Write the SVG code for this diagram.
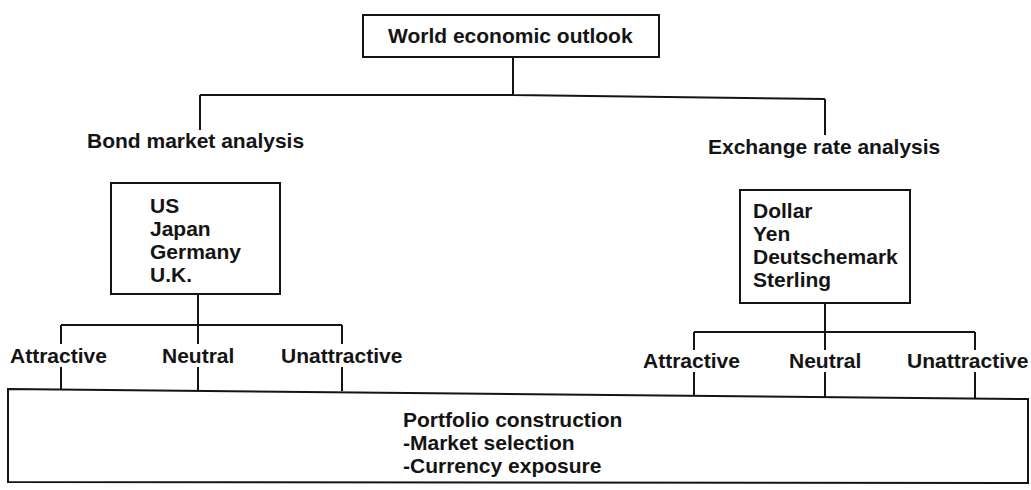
<svg xmlns="http://www.w3.org/2000/svg" width="1031" height="490" viewBox="0 0 1031 490">
<style>
text{font-family:"Liberation Sans",Arial,sans-serif;font-size:21px;font-weight:bold;fill:#141414}
.box{fill:#fff;stroke:#141414;stroke-width:2}
.c{fill:none;stroke:#141414;stroke-width:2}
</style>
<rect width="1031" height="490" fill="#fff"/>
<g id="connectors">
<path class="c" d="M513 57V96M200 95H513L825 99M200 95V130M825 99V135"/>
<path class="c" d="M198 294V325M61 325H342M61 325V344M198 325V344M342 325V344M61 367V389M198 367V390M342 367V391"/>
<path class="c" d="M825 303V332M694 332H975M694 332V350M825 332V350M975 332V350M694 372V397M825 372V398M975 372V399"/>
</g>
<g id="world">
<rect class="box" x="363" y="15" width="296" height="42"/>
<text x="388" y="43">World economic outlook</text>
</g>
<g id="bond-label"><text x="87" y="148">Bond market analysis</text></g>
<g id="fx-label"><text x="708" y="154">Exchange rate analysis</text></g>
<g id="bond-markets">
<rect class="box" x="111" y="183" width="169" height="111"/>
<text x="150" y="213">US</text>
<text x="150" y="236">Japan</text>
<text x="150" y="259">Germany</text>
<text x="150" y="282">U.K.</text>
</g>
<g id="currencies">
<rect class="box" x="740" y="190" width="170" height="113"/>
<text x="753" y="218">Dollar</text>
<text x="753" y="241">Yen</text>
<text x="753" y="264">Deutschemark</text>
<text x="753" y="287">Sterling</text>
</g>
<g id="bond-attractive"><text x="10" y="363">Attractive</text></g>
<g id="bond-neutral"><text x="162" y="363">Neutral</text></g>
<g id="bond-unattractive"><text x="281" y="363">Unattractive</text></g>
<g id="fx-attractive"><text x="643" y="368">Attractive</text></g>
<g id="fx-neutral"><text x="789" y="368">Neutral</text></g>
<g id="fx-unattractive"><text x="907" y="368">Unattractive</text></g>
<g id="portfolio">
<polygon class="box" points="8,389 1028,399 1028,483 8,482"/>
<text x="403" y="427">Portfolio construction</text>
<text x="403" y="450">-Market selection</text>
<text x="403" y="473">-Currency exposure</text>
</g>
</svg>
